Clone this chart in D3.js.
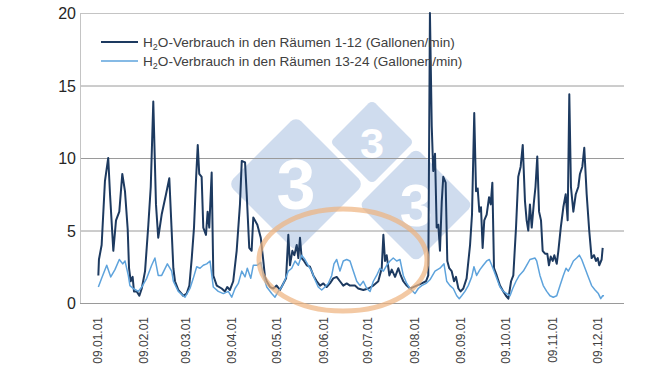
<!DOCTYPE html>
<html>
<head>
<meta charset="utf-8">
<script src="https://cdn.jsdelivr.net/npm/d3@7"></script>
<style>
  body { margin: 0; background: #fff; }
  svg { font-family: "Liberation Sans", Arial, sans-serif; }
</style>
</head>
<body>
<div id="main"></div>
<script>
// days since 01.01.2009 and values (Gallonen/min)
var darkDays = [0.9,1.3,3.1,5.3,7.5,8.7,10.9,12.7,14.9,16.9,18.7,20.5,21.4,22.5,23.8,24.7,26.5,28.3,29.9,32.1,34.3,35.9,37.6,39.4,40.9,43.2,46.1,48.3,51.0,52.1,54.3,57.6,59.9,61.7,63.3,64.8,66.1,67.3,68.3,69.9,71.0,72.8,73.9,75.0,76.6,77.7,80.0,83.3,85.5,87.0,88.8,91.0,93.3,95.5,96.7,98.9,100.0,101.7,103.3,104.4,107.1,109.4,111.1,112.2,113.4,115.6,117.8,120.0,122.2,124.5,126.3,127.8,128.9,130.5,131.8,133.4,134.5,135.6,136.7,138.3,140.1,142.3,144.5,146.8,149.0,151.2,153.4,155.6,157.8,160.1,162.3,164.5,166.8,169.0,172.3,174.5,177.9,181.2,184.6,187.9,190.2,191.3,192.4,193.5,195.3,196.9,199.1,201.3,202.9,204.6,206.9,209.1,211.3,213.6,216.9,219.8,221.3,222.4,223.6,224.6,225.8,226.9,228.0,229.1,230.3,231.3,232.9,234.0,235.3,236.9,238.5,239.8,241.4,242.9,244.7,246.9,249.2,250.5,252.0,253.2,254.3,255.4,256.5,257.6,258.7,260.3,261.9,263.0,264.1,265.2,267.0,269.2,271.4,273.2,274.8,276.6,278.1,279.9,281.4,283.0,284.4,285.9,287.0,288.1,289.2,290.4,291.9,292.9,294.1,295.3,296.6,297.7,299.3,300.8,301.9,303.1,304.4,305.5,307.1,308.2,309.8,311.5,313.1,314.4,315.5,316.6,318.2,319.8,321.5,322.6,324.2,325.5,327.1,328.8,330.4,332.0,333.3,334.5,335.5,337.1,337.8];
var darkValues = [1.9,3.0,4.0,8.4,10.0,7.5,3.6,5.7,6.3,8.9,7.7,5.1,2.4,1.5,1.8,0.8,0.8,0.5,1.0,2.2,5.4,8.0,13.9,6.8,4.5,6.1,7.5,8.6,2.4,1.5,0.9,0.5,0.65,1.2,3.1,5.2,8.4,10.9,8.9,8.7,5.2,4.7,6.3,5.2,9.0,1.9,1.2,1.0,0.8,1.1,0.9,1.5,3.6,6.8,9.8,9.7,7.5,3.8,3.6,5.9,5.4,4.5,2.9,1.8,1.5,1.1,1.0,1.2,0.9,1.35,1.7,4.7,2.6,3.6,3.3,4.0,3.1,4.5,3.1,2.9,2.6,2.5,1.9,1.5,1.2,1.35,1.1,1.35,1.7,1.8,1.5,1.2,1.35,1.2,1.2,1.0,0.9,1.0,1.2,1.5,2.4,4.7,2.9,3.3,1.9,2.3,1.8,2.4,1.9,1.5,1.2,1.0,1.1,1.2,1.35,1.5,1.9,20,12.2,9.1,10.3,5.2,5.4,3.6,7.0,8.7,8.3,2.9,2.4,2.2,1.5,1.8,1.0,0.8,1.0,1.7,4.0,6.1,13.1,7.7,7.9,6.3,6.6,3.8,5.7,6.1,7.3,6.8,8.3,2.4,1.9,1.2,0.8,0.5,0.3,1.5,1.9,5.2,8.7,9.4,10.9,7.0,5.7,5.0,6.8,5.2,7.0,8.0,10.1,6.3,5.7,3.6,3.4,3.4,2.6,3.2,2.9,3.3,2.7,3.6,5.2,6.6,7.5,5.7,14.4,8.0,6.3,7.5,8.0,8.9,9.4,10.7,7.5,5.0,3.1,3.3,2.9,3.1,2.6,3.0,3.8];

var lightDays = [0.9,3.1,6.5,9.2,12.0,14.9,17.2,18.7,20.9,22.0,24.2,27.6,29.9,33.2,36.5,38.7,40.9,43.2,47.0,49.9,51.0,54.3,58.8,62.1,64.3,66.6,68.8,71.0,73.3,75.5,77.7,81.0,84.4,87.7,90.0,92.2,94.4,96.7,98.9,100.4,102.7,104.4,107.1,109.4,111.1,113.4,116.7,118.9,121.1,123.4,125.6,127.8,130.1,132.3,134.5,136.7,138.9,141.1,143.4,145.6,147.8,150.1,152.3,154.5,156.8,158.3,160.1,162.3,164.5,166.8,169.0,171.2,173.5,175.7,177.9,180.2,182.4,184.6,186.8,189.0,191.3,193.5,195.7,197.9,200.2,202.4,204.6,206.9,209.1,212.4,214.6,216.9,219.8,222.4,225.8,229.1,231.8,233.6,235.8,238.0,240.3,242.0,243.6,245.8,248.0,250.3,251.8,253.6,255.8,258.0,260.3,262.1,263.7,265.2,267.0,269.2,271.4,273.7,275.9,277.7,279.9,282.1,284.8,287.0,289.2,292.6,293.7,295.9,298.1,300.4,302.6,304.8,307.1,309.3,311.5,313.3,314.8,316.4,318.2,320.4,322.2,323.8,326.0,328.2,330.4,332.7,334.9,336.5,337.8,338.7];
var lightValues = [1.1,1.7,2.6,1.8,2.3,3.0,2.7,2.9,1.9,1.2,1.0,0.8,1.1,1.7,2.6,3.1,1.9,1.9,2.7,2.2,1.5,0.8,0.4,1.0,1.7,2.5,2.4,2.6,2.7,2.9,1.1,0.8,0.65,0.8,0.4,1.0,1.35,2.2,1.8,2.4,1.7,2.6,2.6,2.8,1.9,1.1,0.65,0.4,0.8,1.1,1.6,2.2,2.4,2.9,2.6,3.3,3.0,2.6,2.2,1.6,1.1,0.9,1.1,1.35,1.9,2.7,3.0,2.2,2.9,3.0,2.9,2.2,1.5,1.2,1.5,1.0,0.8,1.5,1.9,2.4,2.2,2.6,2.9,3.1,2.9,3.0,1.9,1.35,1.0,0.65,1.0,1.2,1.35,1.6,2.2,2.4,2.7,1.5,1.2,1.0,0.5,0.3,0.5,0.8,1.2,1.8,2.5,1.9,2.3,2.6,2.9,3.0,2.6,2.2,1.7,1.1,0.8,0.65,0.5,1.0,1.5,1.9,2.2,2.6,3.0,3.1,2.9,1.9,1.2,0.8,0.5,0.4,0.5,1.2,1.9,2.4,2.2,2.5,2.9,3.1,3.3,3.0,2.4,1.8,1.2,0.9,0.65,0.3,0.5,0.5];

var tickMonths = [0,1,2,3,4,5,6,7,8,9,10,11];
var yTicks = [0,5,10,15,20];
var seriesNames = ["Verbrauch in den Räumen 1-12 (Gallonen/min)", "Verbrauch in den Räumen 13-24 (Gallonen/min)"];
var seriesColors = ["#1d3a60", "#5ea3dc"];

var w = 650, h = 366;
var start = new Date(2009, 0, 1);
function toDate(d) { return new Date(start.getTime() + d * 86400000); }

var svg = d3.select("#main").append("svg")
    .attr("width", w)
    .attr("height", h);

var x = d3.scaleTime()
    .domain([new Date(2009, 0, 1), new Date(2009, 11, 1)])
    .range([97, 597]);
var y = d3.scaleLinear()
    .domain([0, 20])
    .range([303, 13]);

// watermark (behind everything)
var marks = [
    {cx: 296, cy: 184, r: 68},
    {cx: 372, cy: 142, r: 42},
    {cx: 416, cy: 205, r: 57}
];
var wm = svg.append("g");
marks.forEach(function(m) {
    var s = m.r * Math.SQRT1_2 * 2;
    wm.append("rect")
        .attr("x", -s / 2).attr("y", -s / 2)
        .attr("width", s).attr("height", s)
        .attr("rx", s * 0.08)
        .attr("fill", "#cfdcee")
        .attr("transform", "translate(" + m.cx + "," + m.cy + ") rotate(45)");
    wm.append("text")
        .attr("x", m.cx).attr("y", m.cy + m.r * 0.37)
        .attr("text-anchor", "middle")
        .attr("font-size", m.r * 1.03)
        .attr("font-weight", "bold")
        .attr("fill", "#fff")
        .text("3");
});

// gridlines
svg.selectAll(".grid")
    .data(yTicks)
    .enter()
    .append("line")
    .attr("x1", 80)
    .attr("x2", 624)
    .attr("y1", function(d) { return y(d) + 0.5; })
    .attr("y2", function(d) { return y(d) + 0.5; })
    .attr("stroke", function(d) { return d == 20 ? "#c4c4c4" : "#9a9a9a"; })
    .attr("stroke-width", 1);

svg.append("line")
    .attr("x1", 80.5).attr("x2", 80.5)
    .attr("y1", y(20)).attr("y2", y(0))
    .attr("stroke", "#c4c4c4");

// y axis labels
svg.selectAll(".ylab")
    .data(yTicks)
    .enter()
    .append("text")
    .attr("x", 76)
    .attr("y", function(d) { return y(d) + 6; })
    .attr("text-anchor", "end")
    .attr("font-size", 16)
    .attr("fill", "#262626")
    .text(function(d) { return d; });

// x axis labels
var fmt = d3.timeFormat("%y.%m.01");
svg.selectAll(".xlab")
    .data(tickMonths)
    .enter()
    .append("text")
    .attr("transform", function(d) {
        var px = x(new Date(2009, d, 1));
        return "translate(" + (px + 4.5) + ",317) rotate(-90)";
    })
    .attr("text-anchor", "end")
    .attr("font-size", 12)
    .attr("fill", "#404040")
    .text(function(d) { return fmt(new Date(2009, d, 1)); });

// lines
var line = d3.line()
    .x(function(d) { return x(toDate(d[0])); })
    .y(function(d) { return y(d[1]); });

svg.append("clipPath").attr("id", "clip")
    .append("rect").attr("x", 80).attr("y", 12).attr("width", 545).attr("height", 300);

var darkData = darkDays.map(function(d, i) { return [d, darkValues[i]]; });
var lightData = lightDays.map(function(d, i) { return [d, lightValues[i]]; });

svg.append("path")
    .datum(darkData)
    .attr("clip-path", "url(#clip)")
    .attr("d", line)
    .attr("fill", "none")
    .attr("stroke", seriesColors[0])
    .attr("stroke-width", 2)
    .attr("stroke-linejoin", "round");

svg.append("path")
    .datum(lightData)
    .attr("d", line)
    .attr("fill", "none")
    .attr("stroke", seriesColors[1])
    .attr("stroke-width", 1.5)
    .attr("stroke-linejoin", "round");

// annotation ellipse
svg.append("ellipse")
    .attr("cx", 343).attr("cy", 260)
    .attr("rx", 84).attr("ry", 51)
    .attr("fill", "none")
    .attr("stroke", "#eeb27e")
    .attr("stroke-opacity", 0.7)
    .attr("stroke-width", 5);

// legend
var legend = svg.selectAll(".leg")
    .data(seriesNames)
    .enter()
    .append("g")
    .attr("transform", function(d, i) { return "translate(101," + (42 + i * 19) + ")"; });

legend.append("line")
    .attr("x1", 0).attr("x2", 37)
    .attr("stroke", function(d, i) { return seriesColors[i]; })
    .attr("stroke-width", function(d, i) { return i == 0 ? 2 : 1.5; });

var lt = legend.append("text")
    .attr("x", 42)
    .attr("y", 5)
    .attr("font-size", 13.6)
    .attr("fill", "#404040");
lt.append("tspan").text("H");
lt.append("tspan").attr("font-size", 9).attr("dy", 3).text("2");
lt.append("tspan").attr("dy", -3).text("O-");
lt.append("tspan").text(function(d) { return d; });
</script>
</body>
</html>
